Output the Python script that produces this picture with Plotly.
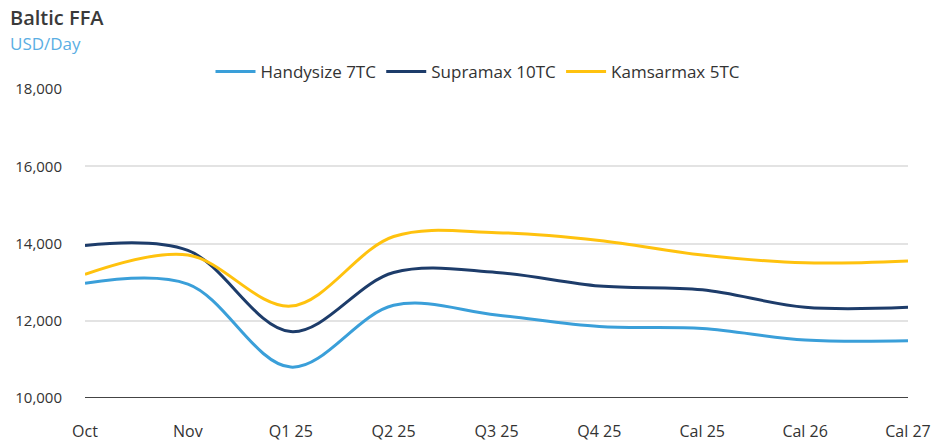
import plotly.graph_objects as go

categories = ["Oct", "Nov", "Q1 25", "Q2 25", "Q3 25", "Q4 25", "Cal 25", "Cal 26", "Cal 27"]
handysize = [12970, 12950, 10800, 12400, 12150, 11850, 11800, 11500, 11480]
supramax = [13950, 13820, 11720, 13250, 13250, 12900, 12800, 12350, 12350]
kamsarmax = [13200, 13700, 12380, 14180, 14280, 14080, 13700, 13500, 13550]
y_ticks = [10000, 12000, 14000, 16000, 18000]

FONT = "Open Sans"
TXT = "#333333"
series = [
    ("Handysize 7TC", handysize, "#3a9fd9"),
    ("Supramax 10TC", supramax, "#1d3c6a"),
    ("Kamsarmax 5TC", kamsarmax, "#ffc20e"),
]

PL, PR, PT, PB = 85, 30, 89, 46
W, H = 938, 444
pw, ph = W - PL - PR, H - PT - PB

fig = go.Figure()
for name, vals, col in series:
    fig.add_trace(go.Scatter(
        x=categories, y=vals, name=name, mode="lines",
        line=dict(color=col, width=3, shape="spline", smoothing=1.0),
    ))

fig.update_layout(
    width=W, height=H,
    margin=dict(l=PL, r=PR, t=PT, b=PB, autoexpand=False),
    paper_bgcolor="white", plot_bgcolor="white",
    font=dict(family=FONT, size=16, color=TXT),
    showlegend=True,
    legend=dict(orientation="h", x=(478 - PL) / pw, xanchor="center",
                y=1 + (PT - 72) / ph, yanchor="middle",
                font=dict(family=FONT, size=17, color=TXT),
                itemwidth=40, tracegroupgap=0),
    annotations=[
        dict(text="Baltic FFA", xref="paper", yref="paper", x=-(PL - 8) / pw,
             y=1 + (PT - 18) / ph, xanchor="left", yanchor="middle", showarrow=False,
             font=dict(family=FONT, size=20, color="#3a3a3a", weight=600)),
        dict(text="USD/Day", xref="paper", yref="paper", x=-(PL - 8) / pw,
             y=1 + (PT - 43) / ph, xanchor="left", yanchor="middle", showarrow=False,
             font=dict(family=FONT, size=17, color="#5aaee3")),
    ],
    xaxis=dict(
        type="category", range=[0, 8], showgrid=False, showline=False,
        zeroline=False, ticks="", tickfont=dict(family=FONT, size=16, color=TXT),
        ticklabelstandoff=22, automargin=False,
    ),
    yaxis=dict(
        range=[10000, 18000], tickvals=y_ticks, tickformat=",d",
        showgrid=True, gridcolor="#e3e3e3", gridwidth=1.5,
        zeroline=False, showline=False, ticks="",
        tickfont=dict(family=FONT, size=15, color=TXT),
        ticklabelstandoff=22, automargin=False,
    ),
    shapes=[dict(type="line", xref="paper", yref="y", x0=0, x1=1, y0=10000, y1=10000,
                 line=dict(color="#444444", width=2))],
)

fig.write_html("out.html", config={"displayModeBar": False},
               post_script="document.body.style.margin='0';document.body.style.padding='0';")
